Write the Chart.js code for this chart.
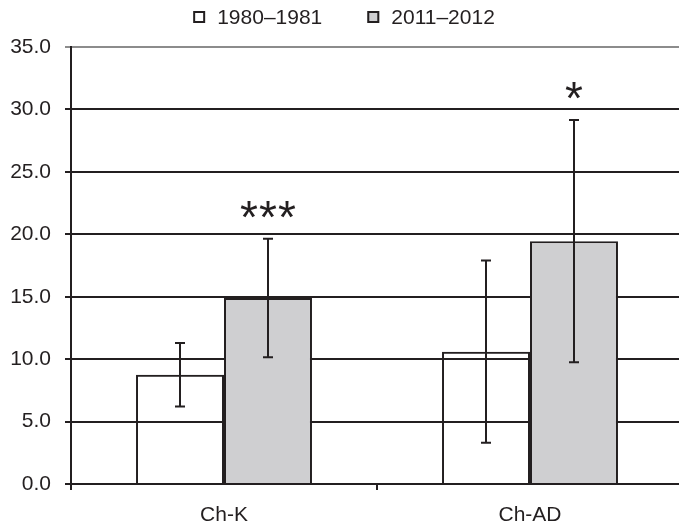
<!DOCTYPE html>
<html>
<head>
<meta charset="utf-8">
<script src="https://cdn.jsdelivr.net/npm/chart.js@4.4.1/dist/chart.umd.min.js"></script>
<style>
  html, body { margin: 0; padding: 0; background: #fff; overflow: hidden; }
  #wrap { width: 686px; height: 524px; }
</style>
</head>
<body>
<div id="wrap"><canvas id="barChart"></canvas></div>
<script>
// categorie e serie
const categories = ['Ch-K', 'Ch-AD'];
const seriesLabels = ['1980–1981', '2011–2012'];
const means1980 = [8.75, 10.6];
const sd1980 = [2.55, 7.3];
const means2011 = [14.9, 19.45];
const sd2011 = [4.75, 9.7];
const significance = ['***', '*'];  // sopra le barre 2011–2012
const yTicks = [0, 5, 10, 15, 20, 25, 30, 35];

const ink = '#231f20';
const fontFamily = '"Liberation Sans", Arial, Helvetica, sans-serif';

// barre di errore (media ± deviazione)
const errorBars = {
    id: 'errorBars',
    afterDatasetsDraw(chart) {
        const { ctx, scales: { y } } = chart;
        const sds = [sd1980, sd2011];
        ctx.save();
        ctx.strokeStyle = ink;
        ctx.lineWidth = 2;
        chart.data.datasets.forEach((ds, di) => {
            const meta = chart.getDatasetMeta(di);
            meta.data.forEach((bar, i) => {
                const top = y.getPixelForValue(ds.data[i] + sds[di][i]);
                const bottom = y.getPixelForValue(ds.data[i] - sds[di][i]);
                const x = Math.round(bar.x);
                ctx.beginPath();
                ctx.moveTo(x, top);
                ctx.lineTo(x, bottom);
                ctx.moveTo(x - 5, top);
                ctx.lineTo(x + 5, top);
                ctx.moveTo(x - 5, bottom);
                ctx.lineTo(x + 5, bottom);
                ctx.stroke();
            });
        });
        // asterischi di significatività
        const meta = chart.getDatasetMeta(1);
        ctx.fillStyle = ink;
        ctx.font = '46px ' + fontFamily;
        ctx.textAlign = 'center';
        ctx.textBaseline = 'alphabetic';
        meta.data.forEach((bar, i) => {
            const centre = y.getPixelForValue(means2011[i] + sd2011[i]) - 32;
            const stars = significance[i];
            const step = 19;
            const start = bar.x - (stars.length - 1) * step / 2;
            for (let k = 0; k < stars.length; k++) {
                ctx.fillText(stars[k], start + k * step, centre + 26);
            }
        });
        ctx.restore();
    }
};

// legenda disegnata a mano (spaziatura ampia tra le voci)
const customLegend = {
    id: 'customLegend',
    afterDraw(chart) {
        const { ctx } = chart;
        const box = 12, gap = 12, itemGap = 45;
        ctx.save();
        ctx.font = '21px ' + fontFamily;
        const widths = chart.data.datasets.map(ds => ctx.measureText(ds.label).width);
        const total = widths.reduce((a, w) => a + box + gap + w, 0) + itemGap * (widths.length - 1);
        let x = chart.width / 2 + 1 - total / 2;
        const yc = 17;
        chart.data.datasets.forEach((ds, i) => {
            ctx.fillStyle = ds.backgroundColor === 'rgba(0,0,0,0)' ? '#ffffff' : ds.backgroundColor;
            ctx.fillRect(x, yc - box / 2, box, box);
            ctx.strokeStyle = ink;
            ctx.lineWidth = 2;
            ctx.strokeRect(x + 1, yc - box / 2 + 1, box - 2, box - 2);
            ctx.fillStyle = ink;
            ctx.textAlign = 'left';
            ctx.textBaseline = 'middle';
            ctx.fillText(ds.label, x + box + gap, yc + 1);
            x += box + gap + widths[i] + itemGap;
        });
        ctx.restore();
    }
};

const ctx = document.getElementById('barChart').getContext('2d');
const barChart = new Chart(ctx, {
    type: 'bar',
    data: {
        labels: categories,
        datasets: [
            {
                label: seriesLabels[0],
                data: means1980,
                backgroundColor: 'rgba(0,0,0,0)',
                borderColor: ink,
                borderWidth: 2
            },
            {
                label: seriesLabels[1],
                data: means2011,
                backgroundColor: '#cfcfd1',
                borderColor: ink,
                borderWidth: 2
            }
        ]
    },
    options: {
        responsive: true,
        maintainAspectRatio: false,
        animation: false,
        layout: { padding: { top: 47, left: 9, right: 3, bottom: 0 } },
        datasets: { bar: { categoryPercentage: 0.575, barPercentage: 1 } },
        plugins: {
            legend: { display: false },
            tooltip: { enabled: false }
        },
        scales: {
            x: {
                offset: true,
                afterFit(axis) { axis.height = 40; },
                grid: { display: true, drawOnChartArea: false, offset: true, tickLength: 6, color: ink, lineWidth: 2 },
                border: { color: ink, width: 2 },
                ticks: { color: ink, font: { family: fontFamily, size: 21 }, padding: 13 }
            },
            y: {
                min: 0,
                max: 35,
                afterFit(axis) { axis.width = 62; },
                afterBuildTicks(axis) { axis.ticks = yTicks.map(v => ({ value: v })); },
                grid: {
                    color: c => (c.tick && c.tick.value === 35) ? '#8c8c8c' : ink,
                    lineWidth: 2,
                    tickLength: 6
                },
                border: { color: ink, width: 2 },
                ticks: {
                    color: ink,
                    font: { family: fontFamily, size: 21 },
                    padding: 14,
                    callback: v => Number(v).toFixed(1)
                }
            }
        }
    },
    plugins: [errorBars, customLegend]
});
</script>
</body>
</html>
